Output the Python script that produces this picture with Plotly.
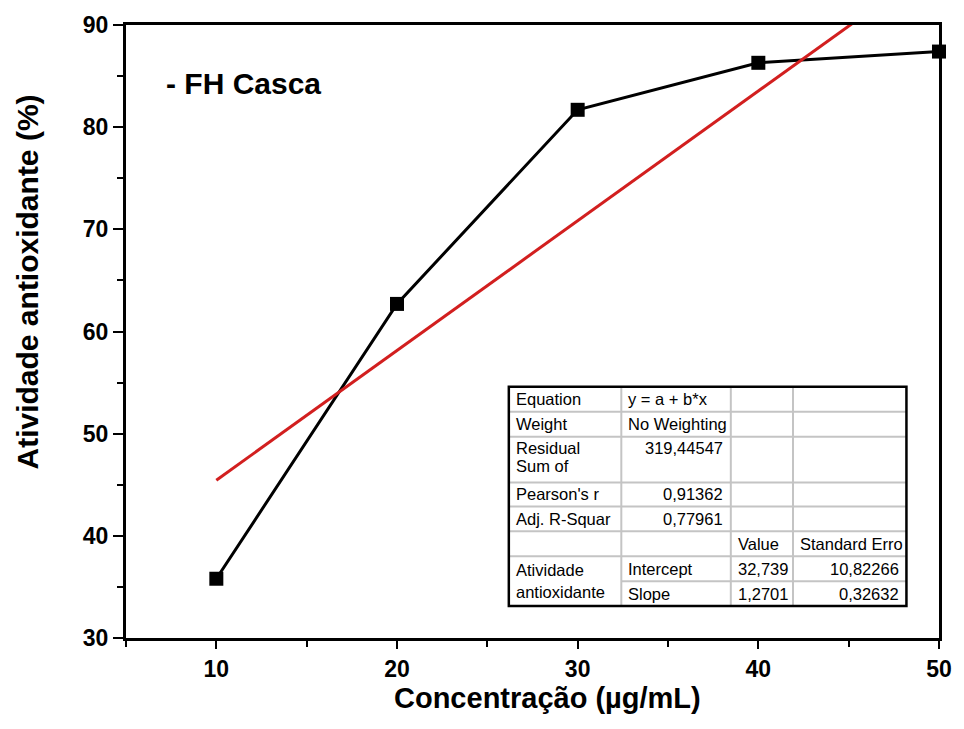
import plotly.graph_objects as go

# ---- data ----
conc = [10, 20, 30, 40, 50]
activity = [35.8, 62.7, 81.7, 86.3, 87.4]
fit_x = [10, 50]
fit_y = [45.44, 96.24]  # y = 32.739 + 1.2701*x

x_ticks = [10, 20, 30, 40, 50]
y_ticks = [30, 40, 50, 60, 70, 80, 90]

table_rows = [
    [["Equation"], ["y = a + b*x"], [], []],
    [["Weight"], ["No Weighting"], [], []],
    [["Residual", "Sum of"], ["319,44547"], [], []],
    [["Pearson's r"], ["0,91362"], [], []],
    [["Adj. R-Squar"], ["0,77961"], [], []],
    [[], [], ["Value"], ["Standard Erro"]],
    [["Atividade", "antioxidante"], ["Intercept"], ["32,739"], ["10,82266"]],
    [[], ["Slope"], ["1,2701"], ["0,32632"]],
]

W, H = 964, 729
L, R, T, B = 126, 14, 23, 91
PW, PH = W - L - R, H - T - B

def px(x):
    return (x - L) / PW

def py(y):
    return (H - B - y) / PH

FONT = "Liberation Sans, Arial, sans-serif"

fig = go.Figure()
fig.add_trace(go.Scatter(
    x=conc, y=activity, mode="lines+markers",
    line=dict(color="black", width=3),
    marker=dict(symbol="square", size=14, color="black"),
    showlegend=False, cliponaxis=False,
))
fig.add_trace(go.Scatter(
    x=fit_x, y=fit_y, mode="lines",
    line=dict(color="#d21f1f", width=3),
    showlegend=False,
))

axis_common = dict(
    showline=True, linecolor="black", linewidth=3, mirror=True,
    ticks="outside", tickwidth=2, tickcolor="black",
    showgrid=False, zeroline=False, ticklabeloverflow="allow",
    tickfont=dict(family=FONT, size=23, color="black", weight="bold"),
)
fig.update_xaxes(
    range=[5, 50], tickvals=x_ticks, ticklen=8,
    minor=dict(dtick=5, ticks="outside", ticklen=6, tickwidth=2, tickcolor="black"),
    **axis_common,
)
fig.update_yaxes(
    range=[30, 90], tickvals=y_ticks, ticklen=10,
    minor=dict(dtick=5, ticks="outside", ticklen=6, tickwidth=2, tickcolor="black"),
    **axis_common,
)

annotations = [
    dict(x=px(165), y=py(82), xref="paper", yref="paper", xanchor="left", yanchor="middle",
         text="<b>- FH Casca</b>", showarrow=False,
         font=dict(family=FONT, size=30, color="black")),
    dict(x=px(553), y=py(698), xref="paper", yref="paper", xanchor="center", yanchor="middle",
         text="<b>Concentração (µg/mL)</b>", showarrow=False,
         font=dict(family=FONT, size=29, color="black")),
    dict(x=px(26), y=py(281), xref="paper", yref="paper", xanchor="center", yanchor="middle",
         text="<b>Atividade antioxidante (%)</b>", showarrow=False, textangle=-90,
         font=dict(family=FONT, size=30, color="black")),
]

# ---- table ----
cols = [514, 628, 739, 802, 917]
rows = [386, 411, 436, 482, 506, 531, 556, 581, 606]
shapes = []
grey = dict(color="#c4c4c4", width=2)
for i, yy in enumerate(rows[1:-1], start=1):
    x0 = cols[1] if i == 7 else cols[0]
    shapes.append(dict(type="line", xref="paper", yref="paper",
                       x0=px(x0), x1=px(cols[-1]), y0=py(yy), y1=py(yy), line=grey))
for xx in cols[1:-1]:
    shapes.append(dict(type="line", xref="paper", yref="paper",
                       x0=px(xx), x1=px(xx), y0=py(rows[0]), y1=py(rows[-1]), line=grey))
shapes.append(dict(type="rect", xref="paper", yref="paper",
                   x0=px(cols[0]), x1=px(cols[-1]), y0=py(rows[0]), y1=py(rows[-1]),
                   line=dict(color="black", width=2.5), fillcolor="rgba(0,0,0,0)"))

right_align = {(2, 1), (3, 1), (4, 1), (6, 3), (7, 3)}
tfont = dict(family=FONT, size=16.5, color="black")
for r, row in enumerate(table_rows):
    for c, lines in enumerate(row):
        if not lines:
            continue
        y_top = rows[r]
        y_bot = rows[r + 1]
        if r == 6 and c == 0:
            y_bot = rows[8]
        if r == 2:
            centers = [y_top + 11 + 18 * k for k in range(len(lines))]
        elif len(lines) == 2:
            mid = (y_top + y_bot) / 2
            centers = [mid - 11, mid + 11]
        else:
            centers = [(y_top + y_bot) / 2]
        if (r, c) in right_align:
            xa, xv = "right", px(cols[c + 1] - 6)
        else:
            xa, xv = "left", px(cols[c] + 5)
        for txt, cy in zip(lines, centers):
            annotations.append(dict(
                x=xv, y=py(cy), xref="paper", yref="paper", xanchor=xa, yanchor="middle",
                text=txt, showarrow=False, font=tfont,
            ))

fig.update_layout(
    width=W, height=H, autosize=False,
    margin=dict(l=L, r=R, t=T, b=B),
    paper_bgcolor="white", plot_bgcolor="white",
    shapes=shapes, annotations=annotations,
)

fig.write_html("out.html")
